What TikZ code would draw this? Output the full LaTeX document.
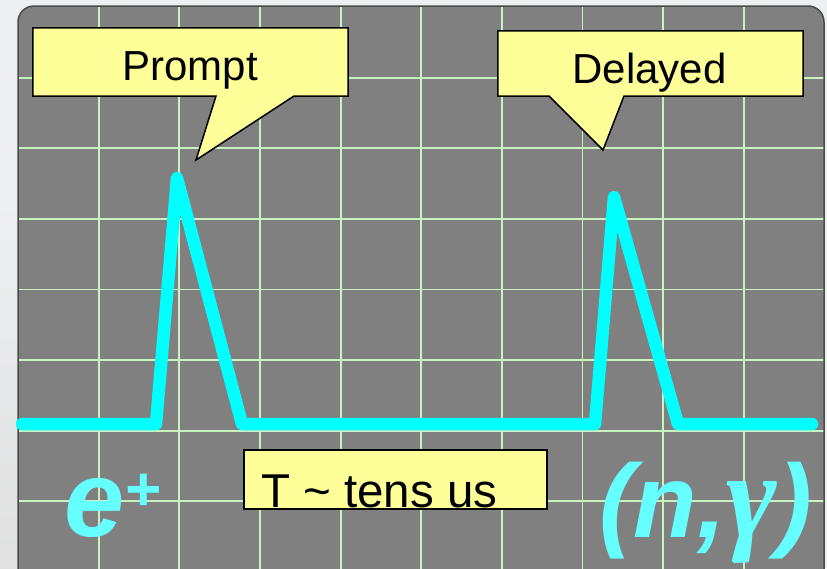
\documentclass[tikz,border=0pt]{standalone}
\usepackage{fontspec}
\setmainfont{Liberation Sans}
\newfontfamily\gammafont{Liberation Serif}
\definecolor{pagebg}{HTML}{EDEFF1}
\definecolor{scopegray}{HTML}{808080}
\definecolor{scopeedge}{HTML}{4A4A4A}
\definecolor{gridgreen}{HTML}{C8F2C0}
\definecolor{trace}{HTML}{00FFFF}
\definecolor{tracelabel}{HTML}{66FFFF}
\definecolor{notefill}{HTML}{FFFF99}
\tikzset{
  gridline/.style={gridgreen, line width=1.8pt},
  tracepath/.style={trace, line width=12.5pt, line cap=round, line join=round},
  notebox/.style={draw=none, inner sep=0pt},
  noteoutline/.style={fill=notefill, draw=black, line width=1.5pt, line join=miter},
  notetext/.style={inner sep=0pt, anchor=base, font=\fontsize{42}{42}\selectfont},
  bigsym/.style={inner sep=0pt, anchor=base west, text=tracelabel,
                 font=\bfseries\itshape}
}
\begin{document}
\begin{tikzpicture}[x=1pt, y=-1pt]
  % page background
  \fill[pagebg] (0,0) rectangle (827,568);
  \shade[top color=pagebg, bottom color=black!12] (0,200) rectangle (18,568);
  \useasboundingbox (0,0) rectangle (827,568);

  % oscilloscope screen
  \fill[scopegray, rounded corners=16pt] (18,6) rectangle (824,590);
  \begin{scope}
    \clip[rounded corners=16pt] (18,6) rectangle (824,590);
    \foreach \k in {1,...,9}
      \draw[gridline] ({18+80.65*\k},6) -- ({18+80.65*\k},590);
    \foreach \k in {1,...,7}
      \draw[gridline] (18,{7+70.6*\k}) -- (824,{7+70.6*\k});
  \end{scope}
  \draw[scopeedge, line width=1.5pt, rounded corners=16pt] (18,6) rectangle (824,590);

  % detector trace with two pulses
  \draw[tracepath] (22,424) -- (156,424) -- (177,178) -- (242,424)
        -- (595,424) -- (614,197) -- (678,424) -- (812,424);

  % callout: Prompt
  \node[notebox, minimum width=315pt, minimum height=68pt] (promptbox) at (190.5,62) {};
  \coordinate (prompttip) at (196,160);
  \draw[noteoutline] (promptbox.north west) -- (promptbox.north east)
        -- (promptbox.south east) -- (294,96) -- (prompttip) -- (216,96)
        -- (promptbox.south west) -- cycle;
  \node[notetext] (prompttext) at (190,80) {Prompt};

  % callout: Delayed
  \node[notebox, minimum width=305pt, minimum height=65pt] (delaybox) at (650.5,63.5) {};
  \coordinate (delaytip) at (603,150);
  \draw[noteoutline] (delaybox.north west) -- (delaybox.north east)
        -- (delaybox.south east) -- (624,96) -- (delaytip) -- (549,96)
        -- (delaybox.south west) -- cycle;
  \node[notetext] (delaytext) at (649.5,83) {Delayed};

  % time interval label
  \node[notebox, minimum width=303pt, minimum height=59pt] (tbox) at (395.5,479.5) {};
  \draw[noteoutline] (tbox.north west) rectangle (tbox.south east);
  \node[inner sep=0pt, anchor=base west, font=\fontsize{47.5}{47.5}\selectfont]
       (ttext) at (261,507) {T \char`\~{} tens us};

  % reaction labels
  \node[bigsym, font=\bfseries\itshape\fontsize{108}{108}\selectfont] (eplus) at (64,536)
       {e\raisebox{26pt}{\fontsize{62}{62}\selectfont +}};
  \node[bigsym, font=\bfseries\itshape\fontsize{104}{104}\selectfont] (ngamma) at (599,537)
       {(n,{\gammafont\fontsize{122}{122}\selectfont γ})};
\end{tikzpicture}
\end{document}
